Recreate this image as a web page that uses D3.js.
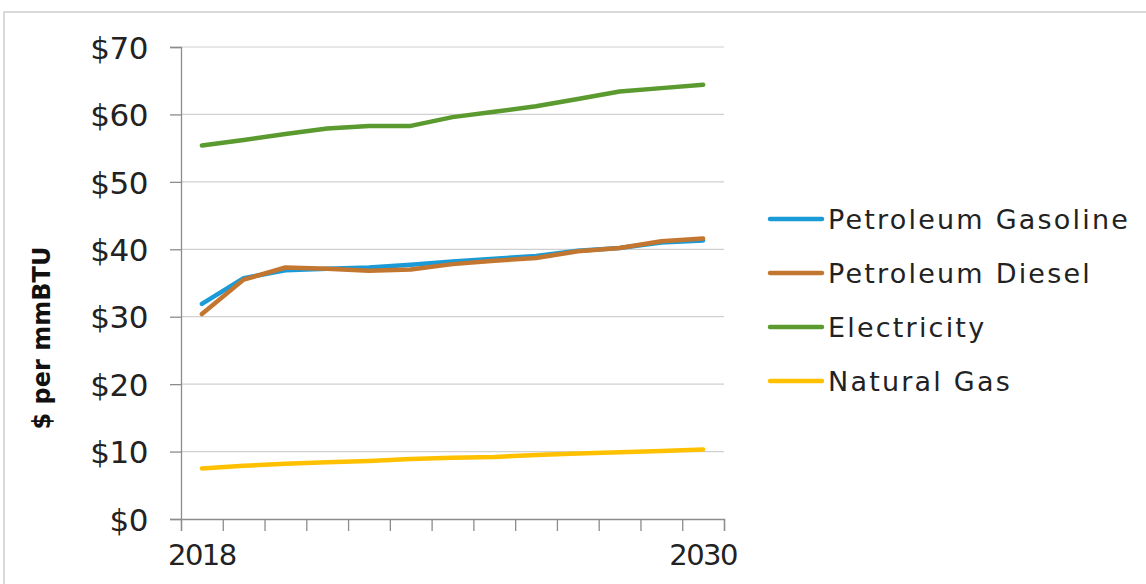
<!DOCTYPE html>
<html>
<head>
<meta charset="utf-8">
<script src="https://cdn.jsdelivr.net/npm/d3@7"></script>
<style>
  html, body { margin: 0; padding: 0; background: #fff; }
  svg { display: block; font-family: "DejaVu Sans", sans-serif; }
</style>
</head>
<body>
<svg id="chart" width="1146" height="584"></svg>
<script>
// Fuel price projections, $ per mmBTU
const years = [2018, 2019, 2020, 2021, 2022, 2023, 2024, 2025, 2026, 2027, 2028, 2029, 2030];
const gasoline    = [31.9, 35.7, 36.9, 37.1, 37.3, 37.7, 38.2, 38.6, 39.0, 39.8, 40.2, 41.0, 41.3];
const diesel      = [30.4, 35.5, 37.3, 37.1, 36.8, 37.0, 37.8, 38.3, 38.7, 39.7, 40.2, 41.2, 41.6];
const electricity = [55.4, 56.2, 57.1, 57.9, 58.3, 58.3, 59.6, 60.4, 61.2, 62.3, 63.4, 63.9, 64.4];
const naturalGas  = [7.5, 7.9, 8.2, 8.4, 8.6, 8.9, 9.1, 9.2, 9.5, 9.7, 9.9, 10.1, 10.3];
const yTicks = [0, 10, 20, 30, 40, 50, 60, 70];
const xLabels = [2018, 2030];
const seriesNames = ["Petroleum Gasoline", "Petroleum Diesel", "Electricity", "Natural Gas"];
const seriesColors = ["#1a9bd7", "#c27630", "#5a9a2f", "#ffc000"];
const seriesValues = [gasoline, diesel, electricity, naturalGas];
const drawOrder = [2, 0, 1, 3];

const svg = d3.select("#chart");
const plot = { left: 181, right: 724, top: 47, bottom: 519 };

// outer frame
svg.append("path")
  .attr("d", `M4,${584} V12 H1146`)
  .attr("fill", "none")
  .attr("stroke", "#d9d9d9")
  .attr("stroke-width", 2);

const x = d3.scaleBand().domain(years).range([plot.left, plot.right]).padding(0);
const xEdge = d3.scaleLinear().domain([0, years.length]).range([plot.left, plot.right]);
const y = d3.scaleLinear().domain([0, 70]).range([plot.bottom, plot.top]);

// gridlines
svg.append("g").selectAll("line")
  .data(yTicks.filter(d => d > 0))
  .join("line")
  .attr("x1", plot.left).attr("x2", plot.right)
  .attr("y1", d => y(d)).attr("y2", d => y(d))
  .attr("stroke", "#d0d0d0").attr("stroke-width", 1.2);

// y axis
const yAxis = svg.append("g")
  .attr("transform", `translate(${plot.left},0)`)
  .call(d3.axisLeft(y).tickValues(yTicks).tickSize(11).tickPadding(22).tickFormat(d => "$" + d));
yAxis.select(".domain").attr("stroke", "#8c8c8c").attr("stroke-width", 1.3);
yAxis.selectAll(".tick line").attr("stroke", "#8c8c8c").attr("stroke-width", 1.3);
yAxis.selectAll(".tick text")
  .attr("font-size", 31).attr("fill", "#222")
  .attr("font-family", "DejaVu Sans, sans-serif")
  .attr("letter-spacing", -0.5)
  .attr("dy", "0.36em");

// x axis: tick marks at category boundaries
const xAxis = svg.append("g")
  .attr("transform", `translate(0,${plot.bottom})`)
  .call(d3.axisBottom(xEdge).tickValues(d3.range(0, years.length + 1)).tickSize(12).tickFormat(""));
xAxis.select(".domain").attr("stroke", "#8c8c8c").attr("stroke-width", 1.3);
xAxis.selectAll(".tick line").attr("stroke", "#8c8c8c").attr("stroke-width", 1.3);

svg.append("g").selectAll("text")
  .data(xLabels)
  .join("text")
  .attr("x", d => x(d) + x.bandwidth() / 2)
  .attr("y", 565)
  .attr("text-anchor", "middle")
  .attr("font-size", 29)
  .attr("letter-spacing", -1.5)
  .attr("fill", "#222")
  .text(d => d);

// y axis title
svg.append("text")
  .attr("transform", "translate(50,338) rotate(-90)")
  .attr("text-anchor", "middle")
  .attr("font-size", 24)
  .attr("font-weight", "bold")
  .attr("fill", "#111")
  .text("$ per mmBTU");

// series lines
const line = d3.line()
  .x((d, i) => x(years[i]) + x.bandwidth() / 2)
  .y(d => y(d));

svg.append("g").selectAll("path")
  .data(drawOrder)
  .join("path")
  .attr("d", i => line(seriesValues[i]))
  .attr("fill", "none")
  .attr("stroke", i => seriesColors[i])
  .attr("stroke-width", 4.5)
  .attr("stroke-linecap", "round")
  .attr("stroke-linejoin", "round");

// legend
const legend = svg.append("g");
const legendY = d3.scaleLinear().domain([0, 1]).range([219, 273]);
const items = legend.selectAll("g")
  .data(seriesNames)
  .join("g")
  .attr("transform", (d, i) => `translate(0,${legendY(i)})`);
items.append("line")
  .attr("x1", 770).attr("x2", 822)
  .attr("stroke", (d, i) => seriesColors[i])
  .attr("stroke-width", 4.5)
  .attr("stroke-linecap", "round");
items.append("text")
  .attr("x", 828)
  .attr("dy", "0.36em")
  .attr("font-size", 27)
  .attr("letter-spacing", 2.2)
  .attr("fill", "#222")
  .text(d => d);
</script>
</body>
</html>
